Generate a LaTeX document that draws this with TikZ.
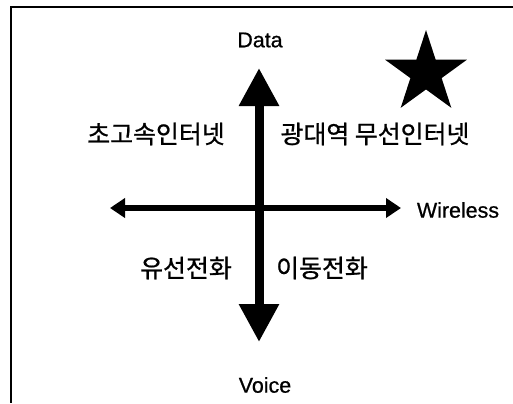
\documentclass[tikz,border=0pt]{standalone}
\usepackage{fontspec}
\setmainfont{Liberation Sans}[BoldFont=Liberation Sans, BoldFeatures={FakeBold=0.7}]
\newfontfamily\kr{Noto Sans CJK KR}[BoldFont=Noto Sans CJK KR, BoldFeatures={FakeBold=0.8}]
\usetikzlibrary{arrows.meta,shapes.geometric}
\tikzset{
  lbl/.style={inner sep=0pt, font=\fontsize{21.5}{24}\selectfont\bfseries},
  krlbl/.style={inner sep=0pt, font=\kr\fontsize{25}{28}\selectfont\bfseries},
  bigaxis/.style={line width=9bp, -{Triangle[width=38bp,length=38bp]}},
  smallaxis/.style={line width=5.5bp, {Triangle[width=19bp,length=15bp]}-{Triangle[width=19bp,length=15bp]}},
  frameline/.style={line width=1.4bp}
}
\begin{document}
\begin{tikzpicture}[x=1bp,y=-1bp]
\useasboundingbox (0,0) rectangle (513,403);
\fill[white] (0,0) rectangle (513,403);
% frame (top and left only)
\coordinate (fr) at (513,7);
\coordinate (fc) at (11,7);
\coordinate (fb) at (11,403);
\draw[frameline] (fr) -- (fc) -- (fb);
% labels
\node[lbl] (data) at (260,40) {Data};
\node[lbl] (voice) at (265,385) {Voice};
\node[lbl] (wireless) at (458,210) {Wireless};
\node[krlbl] (q1) at (156,134) {초고속인터넷};
\node[krlbl] (q2) at (375,134) {광대역 무선인터넷};
\node[krlbl] (q3) at (186,268) {유선전화};
\node[krlbl] (q4) at (322,268) {이동전화};
% axes
\coordinate (ctr) at (259,208);
\coordinate (up) at (259,68);
\coordinate (down) at (259,342);
\coordinate (left) at (110,208);
\coordinate (right) at (401,208);
\draw[bigaxis] (ctr) -- (up);
\draw[bigaxis] (ctr) -- (down);
\draw[smallaxis] (left) -- (right);
% star
\node[star, star points=5, star point ratio=2.618, fill=black, minimum size=86bp, inner sep=0pt] (star) at (426,73) {};
\end{tikzpicture}
\end{document}
